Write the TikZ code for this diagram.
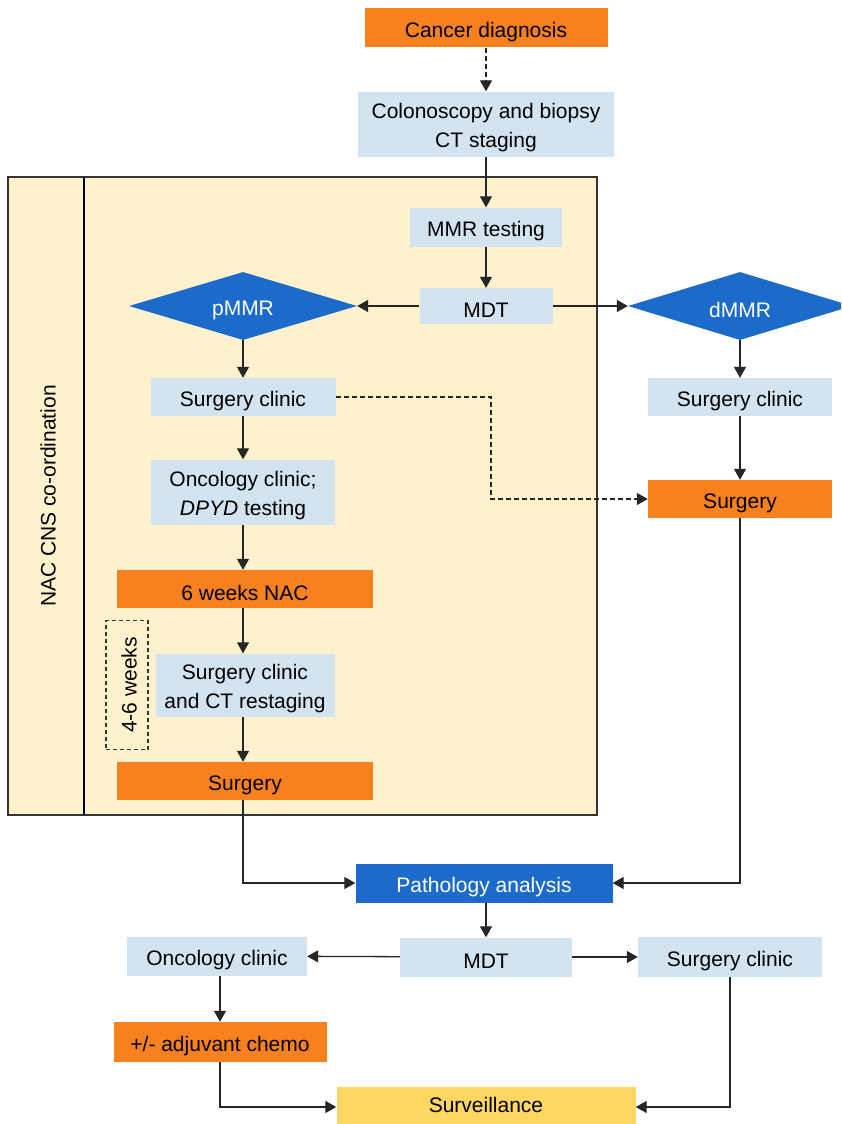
\documentclass[tikz,border=0pt]{standalone}
\usepackage{fontspec}
\setmainfont{Liberation Sans}
\usetikzlibrary{arrows.meta,shapes.geometric}
\definecolor{orng}{HTML}{F7811F}
\definecolor{lblue}{HTML}{D3E4F0}
\definecolor{dblue}{HTML}{1C6BCA}
\definecolor{pyellow}{HTML}{FEF1CD}
\definecolor{syellow}{HTML}{FDD762}
\definecolor{lgray}{HTML}{333333}
\newcommand\lowr[1]{\raisebox{-4pt}[\height][\depth]{#1}}
\tikzset{
  x=1pt,y=-1pt,
  every node/.style={font=\fontsize{21}{29}\selectfont, inner sep=0pt, align=center},
  lbox/.style={fill=lblue, minimum width=#1},
  obox/.style={fill=orng, minimum width=#1},
  dia/.style={diamond, aspect=3.3, fill=dblue, text=white, minimum width=228pt, minimum height=68pt},
  arr/.style={draw=black!85, line width=1.3pt, -{Triangle[length=11pt,width=12pt]}},
  dsh/.style={arr, dash pattern=on 5pt off 3pt},
}
\begin{document}
\begin{tikzpicture}
\clip (0,0) rectangle (841,1124);
\fill[white] (0,0) rectangle (841,1124);
% NAC panel
\draw[fill=pyellow, draw=lgray, line width=1.4pt] (8,177) rectangle (597,815);
\draw[black, line width=2pt] (84,177) -- (84,815);
\node[rotate=90] (nac) at (48,496) {NAC CNS co-ordination};
\node[draw=lgray, line width=1.1pt, dash pattern=on 4pt off 3pt, minimum width=42pt, minimum height=129pt] (wk) at (127,685) {};
\node[rotate=90] (wkt) at (129,685) {4-6 weeks};

% top
\node[obox=243pt, minimum height=39pt] (cd) at (486,28) {\lowr{Cancer diagnosis}};
\node[lbox=256pt, minimum height=65pt] (col) at (486,124) {\lowr{Colonoscopy and biopsy}\\\lowr{CT staging}};
\node[lbox=152pt, minimum height=39pt] (mmr) at (486,227) {\lowr{MMR testing}};
\node[lbox=133pt, minimum height=36pt] (mdt) at (486,306) {\lowr{MDT}};
\node[dia] (pm) at (243,306) {\lowr{pMMR}};
\node[dia, minimum width=224pt] (dm) at (740,306) {\lowr{dMMR}};

% left column
\node[lbox=185pt, minimum height=38pt] (sc1) at (243,397) {\lowr{Surgery clinic}};
\node[lbox=184pt, minimum height=65pt] (onc1) at (243,492) {\lowr{Oncology clinic;}\\\lowr{\textit{DPYD} testing}};
\node[obox=256pt, minimum height=38pt] (nac6) at (245,589) {\lowr{6 weeks NAC}};
\node[lbox=179pt, minimum height=63pt] (sc2) at (245,685) {\lowr{Surgery clinic}\\\lowr{and CT restaging}};
\node[obox=256pt, minimum height=38pt] (sl) at (245,781) {\lowr{Surgery}};

% right column
\node[lbox=184pt, minimum height=38pt] (sc3) at (740,397) {\lowr{Surgery clinic}};
\node[obox=184pt, minimum height=38pt] (sr) at (740,499) {\lowr{Surgery}};

% bottom
\node[fill=dblue, text=white, minimum width=257pt, minimum height=39pt] (pa) at (484,883) {\lowr{Pathology analysis}};
\node[lbox=172pt, minimum height=39pt] (mdt2) at (486,957) {\lowr{MDT}};
\node[lbox=180pt, minimum height=39pt] (onc2) at (217,956) {\lowr{Oncology clinic}};
\node[lbox=184pt, minimum height=40pt] (sc4) at (730,957) {\lowr{Surgery clinic}};
\node[obox=213pt, minimum height=40pt] (chemo) at (220,1042) {\lowr{+/- adjuvant chemo}};
\node[fill=syellow, minimum width=299pt, minimum height=42pt, anchor=north] (surv) at (486,1087) {\raisebox{6pt}{Surveillance}};

% connectors
\draw[dsh] (cd) -- (col);
\draw[arr] (col) -- (mmr);
\draw[arr] (mmr) -- (mdt);
\draw[arr] (mdt) -- (pm);
\draw[arr] (mdt) -- (dm);
\draw[arr] (pm) -- (sc1);
\draw[arr] (sc1) -- (onc1);
\draw[arr] (onc1.south) -- (onc1.south |- nac6.north);
\draw[arr] (nac6.south -| onc1.south) -- (onc1.south |- sc2.north);
\draw[arr] (sc2.south -| onc1.south) -- (onc1.south |- sl.north);
\draw[arr] (dm) -- (sc3);
\draw[arr] (sc3) -- (sr);
\coordinate (dk) at (491,397);
\draw[dsh, line width=1.1pt] (sc1.east) -- (dk) |- (sr.west);
\draw[arr] (sl.south -| onc1.south) |- (pa.west);
\draw[arr] (sr.south) |- (pa.east);
\draw[arr] (pa.south -| mdt2.north) -- (mdt2.north);
\draw[arr] (mdt2) -- (onc2);
\draw[arr] (mdt2) -- (sc4);
\draw[arr] (onc2.south -| chemo.north) -- (chemo.north);
\coordinate (sv) at (486,1107);
\draw[arr] (chemo.south) |- (surv.west |- sv);
\draw[arr] (sc4.south) |- (surv.east |- sv);
\end{tikzpicture}
\end{document}
